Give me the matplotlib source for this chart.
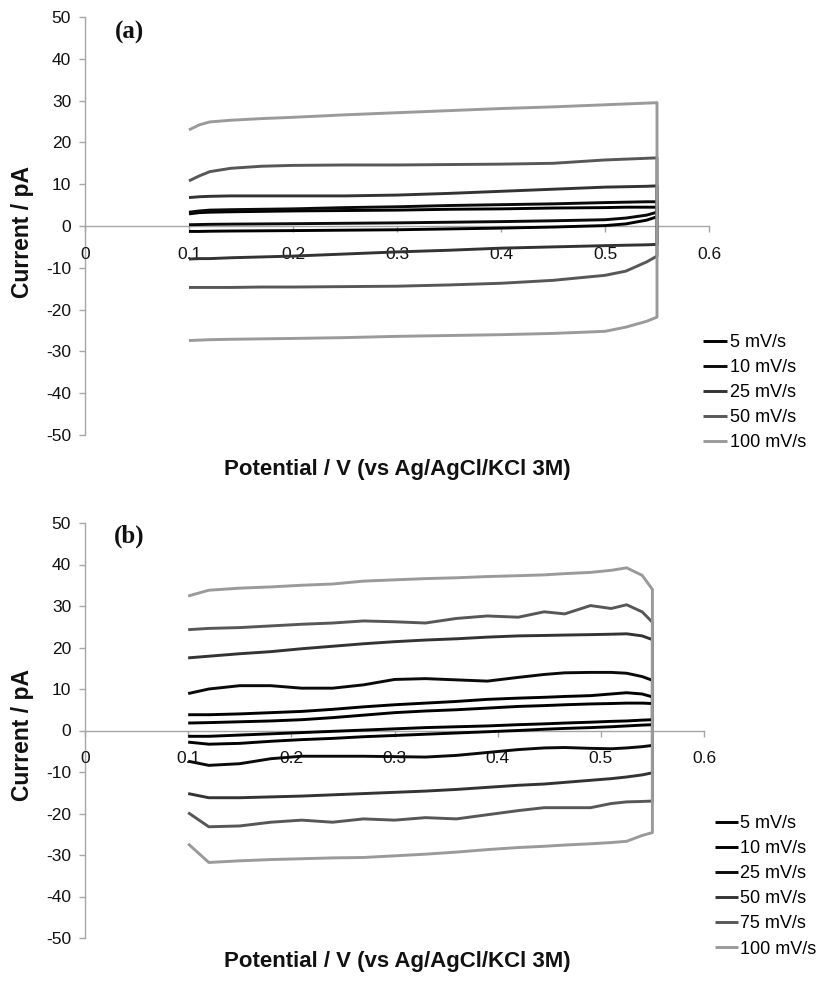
import matplotlib
matplotlib.use("Agg")
import matplotlib.pyplot as plt
import numpy as np

plt.rcParams['font.family'] = ['Liberation Sans', 'DejaVu Sans']
plt.rcParams['axes.unicode_minus'] = False

# ---------------- Panel (a) data ----------------
a_potential = [0.10, 0.11, 0.12, 0.14, 0.17, 0.20, 0.25, 0.30, 0.35, 0.40, 0.45, 0.50, 0.52, 0.54, 0.55]
a_labels = ['5 mV/s', '10 mV/s', '25 mV/s', '50 mV/s', '100 mV/s']
a_colors = ['#000000', '#0a0a0a', '#333333', '#575757', '#9a9a9a']
# forward (anodic) branches
a_fwd_5 = [2.9, 3.2, 3.3, 3.4, 3.5, 3.6, 3.7, 3.8, 4.0, 4.1, 4.3, 4.4, 4.5, 4.5, 4.5]
a_fwd_10 = [3.3, 3.6, 3.8, 3.9, 4.0, 4.1, 4.4, 4.6, 4.9, 5.1, 5.3, 5.6, 5.7, 5.8, 5.8]
a_fwd_25 = [6.8, 7.0, 7.1, 7.2, 7.2, 7.2, 7.2, 7.4, 7.8, 8.3, 8.8, 9.3, 9.4, 9.5, 9.6]
a_fwd_50 = [10.8, 12.0, 13.0, 13.8, 14.3, 14.5, 14.6, 14.6, 14.7, 14.8, 15.0, 15.8, 16.0, 16.2, 16.3]
a_fwd_100 = [23.0, 24.2, 24.9, 25.3, 25.7, 26.0, 26.6, 27.1, 27.6, 28.1, 28.5, 29.0, 29.2, 29.4, 29.5]
# reverse (cathodic) branches, listed at the same potentials
a_rev_5 = [-1.3, -1.3, -1.25, -1.2, -1.15, -1.1, -1.0, -0.9, -0.7, -0.5, -0.25, 0.1, 0.5, 1.4, 2.2]
a_rev_10 = [0.3, 0.35, 0.4, 0.45, 0.5, 0.55, 0.65, 0.75, 0.9, 1.05, 1.25, 1.5, 1.9, 2.6, 3.3]
a_rev_25 = [-7.9, -7.8, -7.8, -7.6, -7.4, -7.2, -6.7, -6.2, -5.8, -5.3, -5.0, -4.7, -4.6, -4.5, -4.4]
a_rev_50 = [-14.7, -14.7, -14.7, -14.7, -14.6, -14.6, -14.5, -14.4, -14.1, -13.7, -13.0, -11.8, -10.8, -8.6, -7.2]
a_rev_100 = [-27.4, -27.3, -27.2, -27.1, -27.0, -26.9, -26.7, -26.4, -26.2, -26.0, -25.7, -25.2, -24.2, -22.8, -21.8]

# ---------------- Panel (b) data ----------------
b_potential = [0.10, 0.12, 0.15, 0.18, 0.21, 0.24, 0.27, 0.30, 0.33, 0.36, 0.39, 0.42,
               0.445, 0.465, 0.49, 0.51, 0.525, 0.54, 0.55]
b_labels = ['5 mV/s', '10 mV/s', '25 mV/s', '50 mV/s', '75 mV/s', '100 mV/s']
b_colors = ['#000000', '#000000', '#0a0a0a', '#333333', '#575757', '#9a9a9a']
b_fwd_5 = [1.8, 1.9, 2.1, 2.3, 2.6, 3.1, 3.7, 4.3, 4.7, 5.0, 5.4, 5.8, 6.0, 6.2, 6.4, 6.5, 6.6, 6.6, 6.5]
b_fwd_10 = [3.8, 3.8, 4.0, 4.3, 4.6, 5.1, 5.7, 6.2, 6.6, 7.0, 7.5, 7.8, 8.0, 8.2, 8.4, 8.8, 9.1, 8.8, 8.1]
b_fwd_25 = [8.9, 10.0, 10.8, 10.8, 10.2, 10.2, 11.0, 12.3, 12.5, 12.2, 11.9, 12.8, 13.5, 13.9, 14.0, 14.0, 13.8, 13.0, 12.1]
b_fwd_50 = [17.5, 17.9, 18.5, 19.0, 19.7, 20.3, 20.9, 21.4, 21.8, 22.1, 22.5, 22.8, 22.9, 23.0, 23.1, 23.2, 23.3, 22.8, 21.9]
b_fwd_75 = [24.3, 24.6, 24.8, 25.2, 25.6, 25.9, 26.4, 26.2, 25.9, 27.0, 27.6, 27.3, 28.6, 28.1, 30.1, 29.4, 30.3, 28.6, 26.1]
b_fwd_100 = [32.4, 33.8, 34.3, 34.6, 35.0, 35.3, 36.0, 36.3, 36.6, 36.8, 37.1, 37.3, 37.5, 37.8, 38.1, 38.6, 39.2, 37.4, 34.0]
b_rev_5 = [-1.4, -1.4, -1.1, -0.8, -0.5, -0.2, 0.1, 0.4, 0.7, 0.9, 1.1, 1.4, 1.6, 1.8, 2.0, 2.2, 2.3, 2.5, 2.6]
b_rev_10 = [-2.8, -3.3, -3.1, -2.6, -2.2, -1.9, -1.5, -1.2, -0.9, -0.6, -0.3, 0.0, 0.3, 0.5, 0.7, 0.9, 1.1, 1.3, 1.4]
b_rev_25 = [-7.4, -8.4, -8.0, -6.8, -6.2, -6.2, -6.2, -6.3, -6.4, -6.0, -5.3, -4.6, -4.2, -4.1, -4.3, -4.4, -4.2, -3.9, -3.6]
b_rev_50 = [-15.2, -16.2, -16.2, -16.0, -15.8, -15.5, -15.2, -14.9, -14.6, -14.2, -13.7, -13.2, -12.9, -12.5, -12.0, -11.6, -11.2, -10.7, -10.2]
b_rev_75 = [-19.8, -23.2, -23.0, -22.1, -21.6, -22.1, -21.3, -21.6, -21.0, -21.3, -20.3, -19.3, -18.6, -18.6, -18.6, -17.6, -17.2, -17.1, -17.0]
b_rev_100 = [-27.3, -31.8, -31.4, -31.1, -30.9, -30.7, -30.6, -30.2, -29.8, -29.3, -28.7, -28.2, -27.9, -27.6, -27.3, -27.0, -26.7, -25.3, -24.6]

x_ticks = [0, 0.1, 0.2, 0.3, 0.4, 0.5, 0.6]
x_ticklabels = ['0', '0.1', '0.2', '0.3', '0.4', '0.5', '0.6']
y_ticks = [-50, -40, -30, -20, -10, 0, 10, 20, 30, 40, 50]
xlabel = 'Potential / V (vs Ag/AgCl/KCl 3M)'
ylabel = 'Current / pA'

W, H = 817, 984
fig = plt.figure(figsize=(W / 100, H / 100), dpi=100)
fig.patch.set_facecolor('white')

AXC = '#a6a6a6'


def style_axes(ax):
    ax.set_xlim(0, 0.6)
    ax.set_ylim(-50, 50)
    for s in ['top', 'right']:
        ax.spines[s].set_visible(False)
    ax.spines['left'].set_position(('data', 0))
    ax.spines['bottom'].set_position(('data', 0))
    for s in ['left', 'bottom']:
        ax.spines[s].set_color(AXC)
        ax.spines[s].set_linewidth(1.0)
        ax.spines[s].set_zorder(1)
    ax.set_xticks(x_ticks)
    ax.set_xticklabels(x_ticklabels)
    ax.set_yticks(y_ticks)
    ax.tick_params(axis='x', direction='out', length=4, width=1, color=AXC,
                   pad=11, labelsize=12.5, labelcolor='#111111')
    ax.tick_params(axis='y', direction='out', length=4, width=1, color=AXC,
                   pad=6, labelsize=12.5, labelcolor='#111111')
    for lab in ax.get_xticklabels():
        lab.set_zorder(5)
    ax.patch.set_alpha(0)


def draw_cv(ax, potential, fwd, rev, color):
    E = list(potential) + list(potential)[::-1]
    I = list(fwd) + list(rev)[::-1]
    ln, = ax.plot(E, I, color=color, lw=2.1, solid_joinstyle='round',
                  solid_capstyle='butt', zorder=3)
    return ln


leg_kw = dict(loc='upper left', frameon=False, fontsize=13, handletextpad=0.15,
              labelspacing=0.45, borderpad=0, borderaxespad=0)

# ---- panel (a)
ax1 = fig.add_axes([85 / W, 1 - 435 / H, 624 / W, 418 / H])
style_axes(ax1)
a_f = [a_fwd_5, a_fwd_10, a_fwd_25, a_fwd_50, a_fwd_100]
a_r = [a_rev_5, a_rev_10, a_rev_25, a_rev_50, a_rev_100]
h1 = []
for f, r, c in zip(a_f, a_r, a_colors):
    h1.append(draw_cv(ax1, a_potential, f, r, c))
fig.legend(h1, a_labels, bbox_to_anchor=(703 / W, 1 - 334 / H), handlelength=1.35, **leg_kw)

# ---- panel (b)
ax2 = fig.add_axes([85 / W, 1 - 938 / H, 619 / W, 415 / H])
style_axes(ax2)
b_f = [b_fwd_5, b_fwd_10, b_fwd_25, b_fwd_50, b_fwd_75, b_fwd_100]
b_r = [b_rev_5, b_rev_10, b_rev_25, b_rev_50, b_rev_75, b_rev_100]
h2 = []
for f, r, c in zip(b_f, b_r, b_colors):
    h2.append(draw_cv(ax2, b_potential, f, r, c))
fig.legend(h2, b_labels, bbox_to_anchor=(715 / W, 1 - 815 / H), handlelength=1.25, **leg_kw)

# labels
for yc_lab, yc_x, tag, ytag in [(232, 470, '(a)', 32), (735, 962, '(b)', 536)]:
    fig.text(22 / W, 1 - yc_lab / H, ylabel, rotation=90, ha='center', va='center',
             fontsize=16.5, fontweight='bold', color='#111111')
    fig.text(397 / W, 1 - yc_x / H, xlabel, ha='center', va='center',
             fontsize=16, fontweight='bold', color='#111111')
    fig.text(129 / W, 1 - ytag / H, tag, ha='center', va='center',
             fontsize=18, fontweight='bold', family='Liberation Serif', color='#111111')

fig.savefig('out.png', dpi=100, facecolor='white')
